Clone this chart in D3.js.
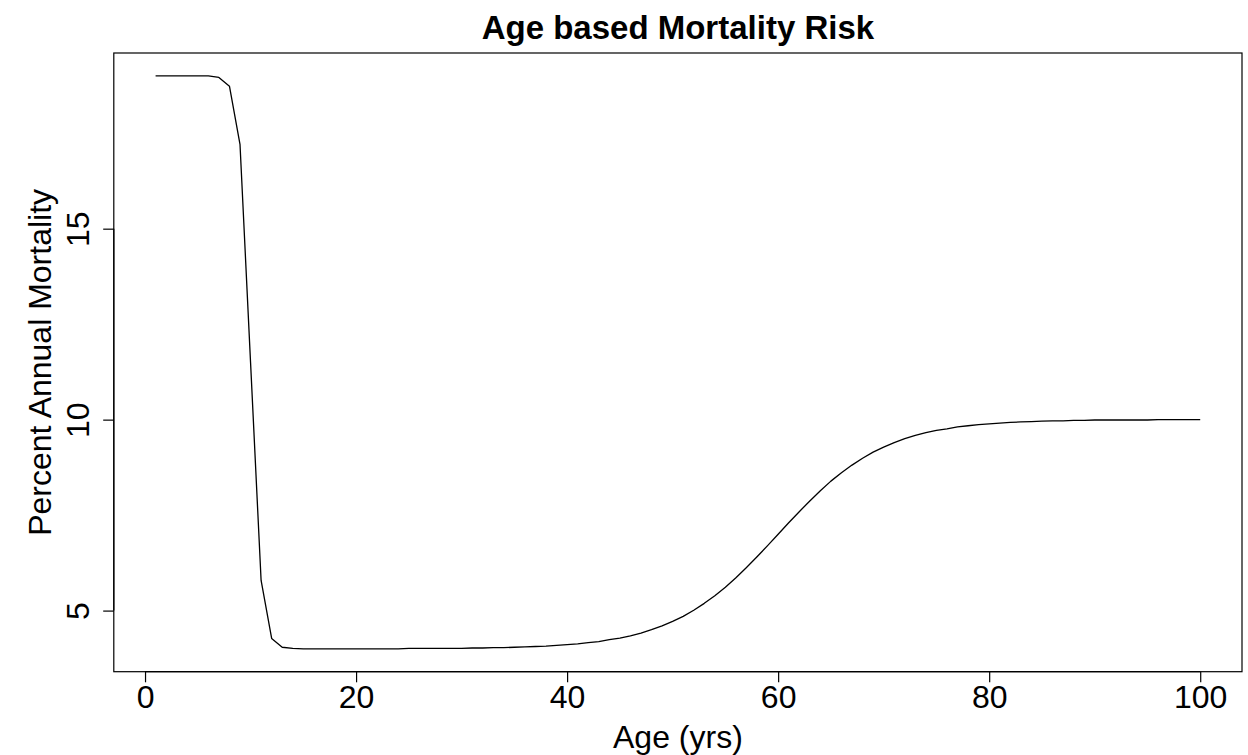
<!DOCTYPE html>
<html>
<head>
<meta charset="utf-8">
<script src="https://cdn.jsdelivr.net/npm/d3@7/dist/d3.min.js"></script>
<style>
  html, body { margin: 0; padding: 0; background: #fff; }
  svg { display: block; }
  text { font-family: "Liberation Sans", Arial, Helvetica, sans-serif; fill: #000; }
</style>
</head>
<body>
<svg id="chart" width="1248" height="755"></svg>
<script>
// Annual mortality (%) by age, ages 1..100
const ages = d3.range(1, 101);
const mortality = [
  19.00, 19.00, 19.00, 19.00, 19.00, 19.00, 18.96, 18.73, 17.21, 11.50,
   5.79,  4.27,  4.04,  4.01,  4.00,  4.00,  4.00,  4.00,  4.00,  4.00,
   4.00,  4.00,  4.00,  4.00,  4.01,  4.01,  4.01,  4.01,  4.01,  4.01,
   4.02,  4.02,  4.03,  4.03,  4.04,  4.05,  4.06,  4.07,  4.09,  4.11,
   4.13,  4.16,  4.19,  4.24,  4.28,  4.34,  4.41,  4.50,  4.60,  4.72,
   4.85,  5.01,  5.19,  5.39,  5.61,  5.86,  6.13,  6.41,  6.70,  7.00,
   7.30,  7.59,  7.87,  8.14,  8.39,  8.61,  8.81,  8.99,  9.15,  9.28,
   9.40,  9.50,  9.59,  9.66,  9.72,  9.76,  9.81,  9.84,  9.87,  9.89,
   9.91,  9.93,  9.94,  9.95,  9.96,  9.97,  9.97,  9.98,  9.98,  9.99,
   9.99,  9.99,  9.99,  9.99,  9.99, 10.00, 10.00, 10.00, 10.00, 10.00
];
const xTicks = [0, 20, 40, 60, 80, 100];
const yTicks = [5, 10, 15];

const titleText = "Age based Mortality Risk";
const xLabel = "Age (yrs)";
const yLabel = "Percent Annual Mortality";

const svg = d3.select("#chart");
const plot = { left: 113.8, right: 1242, top: 53, bottom: 671.7 };

// Axis ranges padded by 4% on each side of the data extent
function padded(ext) {
  const d = (ext[1] - ext[0]) * 0.04;
  return [ext[0] - d, ext[1] + d];
}
const x = d3.scaleLinear().domain(padded(d3.extent(ages))).range([plot.left, plot.right]);
const y = d3.scaleLinear().domain(padded(d3.extent(mortality))).range([plot.bottom, plot.top]);

const fontSize = 32;
const tickLen = 10.6;

// plot frame
svg.append("rect")
  .attr("x", plot.left).attr("y", plot.top)
  .attr("width", plot.right - plot.left).attr("height", plot.bottom - plot.top)
  .attr("fill", "none").attr("stroke", "#000").attr("stroke-width", 1.2);

// x axis
const xAxis = svg.append("g").attr("transform", `translate(0,${plot.bottom})`)
  .call(d3.axisBottom(x).tickValues(xTicks).tickSize(tickLen).tickPadding(0).tickSizeOuter(0));
xAxis.select(".domain").attr("d", `M${x(xTicks[0])},0H${x(xTicks[xTicks.length - 1])}`)
  .attr("stroke", "#000").attr("stroke-width", 1.2);
xAxis.selectAll(".tick line").attr("stroke", "#000").attr("stroke-width", 1.2);
xAxis.selectAll(".tick text")
  .attr("y", 36.3).attr("dy", null)
  .style("font-size", fontSize + "px")
  .style("font-family", "'Liberation Sans', Arial, sans-serif");

// y axis
const yAxis = svg.append("g").attr("transform", `translate(${plot.left},0)`)
  .call(d3.axisLeft(y).tickValues(yTicks).tickSize(tickLen).tickPadding(0).tickSizeOuter(0));
yAxis.select(".domain").attr("d", `M0,${y(yTicks[0])}V${y(yTicks[yTicks.length - 1])}`)
  .attr("stroke", "#000").attr("stroke-width", 1.2);
yAxis.selectAll(".tick line").attr("stroke", "#000").attr("stroke-width", 1.2);
yAxis.selectAll(".tick text")
  .attr("x", null).attr("dy", null)
  .attr("text-anchor", "middle")
  .attr("transform", "translate(-24.5,0) rotate(-90)")
  .style("font-size", fontSize + "px")
  .style("font-family", "'Liberation Sans', Arial, sans-serif");
svg.selectAll(".tick text").attr("fill", "#000");

// mortality curve
const line = d3.line()
  .x((d, i) => x(ages[i]))
  .y(d => y(d));
svg.append("path")
  .datum(mortality)
  .attr("d", line)
  .attr("fill", "none")
  .attr("stroke", "#000")
  .attr("stroke-width", 1.3)
  .attr("stroke-linejoin", "round");

const cx = (plot.left + plot.right) / 2;
const cy = (plot.top + plot.bottom) / 2;

// title
svg.append("text")
  .attr("x", cx).attr("y", 38.5)
  .attr("text-anchor", "middle")
  .style("font-size", "33px").style("font-weight", "bold")
  .text(titleText);

// axis titles
svg.append("text")
  .attr("x", cx).attr("y", 748)
  .attr("text-anchor", "middle")
  .style("font-size", fontSize + "px")
  .text(xLabel);

svg.append("text")
  .attr("transform", `translate(51,${cy}) rotate(-90)`)
  .attr("text-anchor", "middle")
  .style("font-size", fontSize + "px")
  .text(yLabel);
</script>
</body>
</html>
